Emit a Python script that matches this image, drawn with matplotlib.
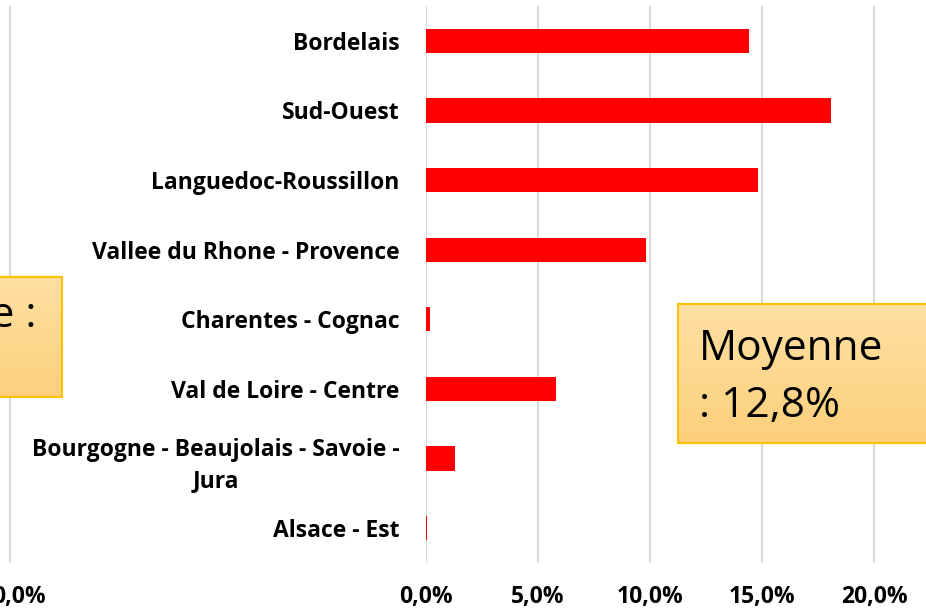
import numpy as np
from matplotlib import pyplot as plt
from matplotlib.colors import LinearSegmentedColormap
import matplotlib.transforms as mtransforms

plt.rcParams['font.family'] = ['Open Sans', 'DejaVu Sans']

regions = ['Bordelais', 'Sud-Ouest', 'Languedoc-Roussillon',
           'Vallee du Rhone - Provence', 'Charentes - Cognac',
           'Val de Loire - Centre', 'Bourgogne - Beaujolais - Savoie -\nJura',
           'Alsace - Est']
values = [14.4, 18.1, 14.8, 9.8, 0.2, 5.8, 1.3, 0.05]
xticks = [0, 5, 10, 15, 20]
xtick_labels = ['0,0%', '5,0%', '10,0%', '15,0%', '20,0%']
mean_lines = ['Moyenne', ': 12,8%']
left_box_text = 'Moyenne :'

W, H = 926, 610
fig = plt.figure(figsize=(W / 100, H / 100), dpi=100)

def px_rect(x0, y0, x1, y1):
    # pixel box (top-left origin) -> figure fraction rect
    return [x0 / W, 1 - y1 / H, (x1 - x0) / W, (y1 - y0) / H]

grid_c = '#d9d9d9'
lab_fs = 16.5

# cropped neighbour chart on the far left: only its 0% gridline shows
axl = fig.add_axes(px_rect(-400, 6, 13, 563))
axl.set_xlim(-20, 0.15)
axl.set_ylim(0, 1)
axl.set_xticks([0])
axl.set_xticklabels(['0,0%'], fontsize=lab_fs, fontweight='bold')
axl.set_yticks([])
axl.grid(axis='x', color=grid_c, linewidth=1.5)
axl.tick_params(axis='x', length=0, pad=16)
for s in axl.spines.values():
    s.set_visible(False)
axl.patch.set_alpha(0)
shift = mtransforms.ScaledTranslation(9 / 100, 0, fig.dpi_scale_trans)
for t in axl.get_xticklabels():
    t.set_transform(t.get_transform() + shift)

# main chart
ax = fig.add_axes(px_rect(426, 6, 926, 563))
y = np.arange(len(regions))
ax.barh(y, values, height=0.35, color='#ff0000', zorder=3)
ax.set_xlim(0, 500 / 22.4)
ax.set_ylim(len(regions) - 0.5, -0.5)
ax.set_xticks(xticks)
ax.set_xticklabels(xtick_labels, fontsize=lab_fs, fontweight='bold')
ax.set_yticks(y)
ax.set_yticklabels(regions, fontsize=lab_fs, fontweight='bold', multialignment='center',
                   linespacing=1.4)
ax.tick_params(axis='x', length=0, pad=16)
ax.tick_params(axis='y', length=0, pad=19)
ax.grid(axis='x', color=grid_c, linewidth=1.5, zorder=0)
ax.set_axisbelow(True)
for s in ax.spines.values():
    s.set_visible(False)
ax.patch.set_alpha(0)

cmap = LinearSegmentedColormap.from_list('box', ['#ffe0a3', '#fcd07c'])
grad = np.linspace(0, 1, 100).reshape(-1, 1)

def gold_box(rect):
    b = fig.add_axes(rect)
    b.imshow(grad, aspect='auto', cmap=cmap, extent=[0, 1, 1, 0])
    b.set_xticks([])
    b.set_yticks([])
    for s in b.spines.values():
        s.set_color('#ffc000')
        s.set_linewidth(1.5)
    return b

gold_box(px_rect(-200, 277, 62, 397))
fig.text(36 / W, 1 - 327 / H, left_box_text, fontsize=30.5, ha='right', va='baseline')

gold_box(px_rect(678, 304, 960, 443))
fig.text(699 / W, 1 - 360 / H, mean_lines[0], fontsize=30.5, va='baseline')
fig.text(699 / W, 1 - 417 / H, mean_lines[1], fontsize=30.5, va='baseline')

fig.savefig('out.png', dpi=100)
